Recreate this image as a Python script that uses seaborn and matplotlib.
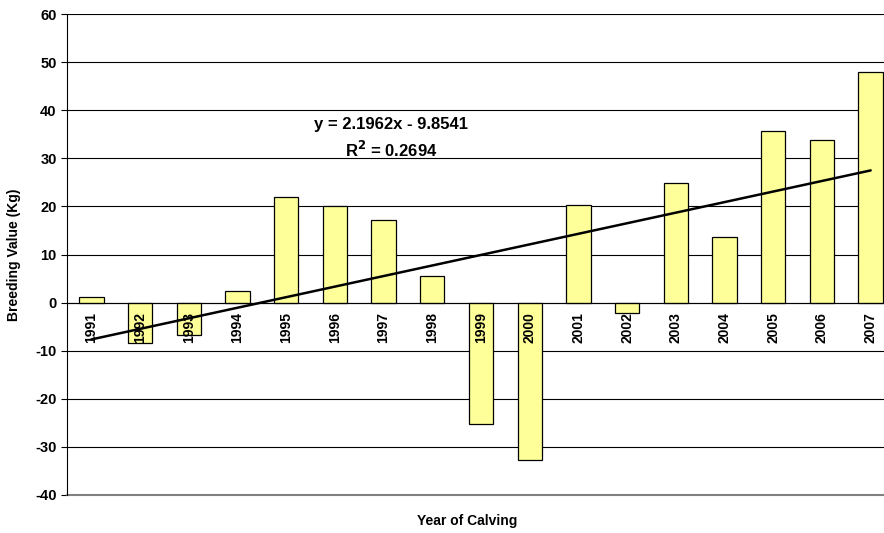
import numpy as np
import pandas as pd
import matplotlib
matplotlib.use("Agg")
import matplotlib.pyplot as plt
import seaborn as sns

# Data
years = [str(y) for y in range(1991, 2008)]
breeding_value = [1.1, -8.5, -6.7, 2.4, 21.9, 20.1, 17.2, 5.5, -25.3, -32.8,
                  20.3, -2.2, 24.9, 13.6, 35.7, 33.8, 48.0]
slope, intercept = 2.1962, -9.8541
r2 = 0.2694

df = pd.DataFrame({"year": years, "value": breeding_value})

sns.set_style("white")
plt.rcParams["font.family"] = ["Liberation Sans", "DejaVu Sans"]
plt.rcParams["font.weight"] = "bold"
plt.rcParams["axes.unicode_minus"] = False
plt.rcParams["text.color"] = "black"
plt.rcParams["axes.labelcolor"] = "black"
plt.rcParams["xtick.color"] = "black"
plt.rcParams["ytick.color"] = "black"

W, H = 884, 533
fig = plt.figure(figsize=(W / 100, H / 100), dpi=100)
ax = fig.add_axes([67 / W, 1 - 495 / H, 828 / W, 481 / H])

sns.barplot(data=df, x="year", y="value", color="#FFFF99", edgecolor="black",
            linewidth=0.9, width=0.5, saturation=1, ax=ax, zorder=3)

# linear trendline
idx = np.arange(len(years))
trend = slope * (idx + 1) + intercept
ax.plot(idx, trend, color="black", linewidth=1.8, zorder=4)

fig.text(391 / W, 1 - 125 / H, f"y = {slope}x - {abs(intercept)}",
         ha="center", va="center", fontsize=12, fontweight="bold")
fig.text(391 / W, 1 - 150 / H, f"R$^2$ = {r2}",
         ha="center", va="center", fontsize=12, fontweight="bold")

ax.set_ylim(-40, 60)
ax.set_xlim(-0.5, len(years) - 0.5)
ax.set_yticks(range(-40, 61, 10))
ax.yaxis.grid(True, color="black", linewidth=0.8, zorder=0)
ax.set_axisbelow(True)

# x axis sits on the zero line, labels drawn over the bars
ax.spines["bottom"].set_position(("data", 0))
ax.spines["bottom"].set_zorder(5)
ax.xaxis.set_zorder(5)
ax.spines["top"].set_visible(False)
ax.spines["right"].set_visible(False)
ax.spines["left"].set_color("black")
ax.spines["bottom"].set_color("black")
ax.axhline(-40, color="#808080", linewidth=1.5, clip_on=False, zorder=1)

ax.set_xticks(idx)
ax.set_xticklabels(years, rotation=90, fontsize=10, fontweight="bold", va="top")
ax.set_xticks(np.arange(-0.5, len(years), 1), minor=True)
ax.tick_params(axis="x", which="major", length=0, pad=7)
ax.tick_params(axis="x", which="minor", length=5, direction="out", color="black", width=0.8)
ax.tick_params(axis="y", length=4, direction="out", color="black", labelsize=10.5, left=True)
for lab in ax.get_yticklabels():
    lab.set_fontweight("bold")

ax.set_xlabel("")
ax.set_ylabel("Breeding Value (Kg)", fontsize=10, fontweight="bold", labelpad=10)
fig.text(467 / W, 1 - 521 / H, "Year of Calving", ha="center", va="center",
         fontsize=10, fontweight="bold")

fig.savefig("out.png", dpi=100)
